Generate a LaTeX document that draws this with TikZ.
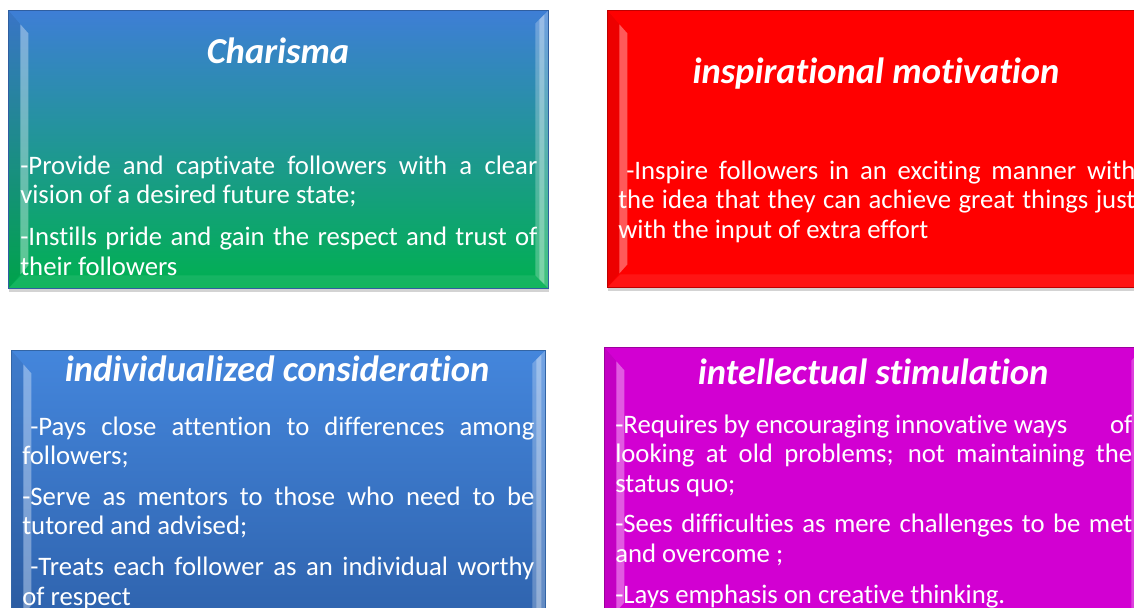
\documentclass[tikz,border=0pt]{standalone}
\usepackage{fontspec}
\setmainfont{Carlito}[Ligatures={NoCommon,NoContextual},Contextuals=NoAlternate,RawFeature={-liga;-calt}]
\usetikzlibrary{shadows}

\definecolor{chatop}{RGB}{62,126,214}
\definecolor{chamid}{RGB}{48,142,180}
\definecolor{chabot}{RGB}{0,176,80}
\definecolor{insred}{RGB}{255,0,0}
\definecolor{indtop}{RGB}{68,134,220}
\definecolor{indbot}{RGB}{46,98,172}
\definecolor{intmag}{RGB}{210,0,210}

\begin{document}
\begin{tikzpicture}[x=0.025cm,y=-0.025cm,
  box/.style={anchor=north west,inner sep=0pt,minimum width=13.5cm,minimum height=6.95cm,
    draw=#1!75!black,line width=0.5pt,
    drop shadow={shadow xshift=0.4pt,shadow yshift=-2.5pt,opacity=0.35},
    path picture={
      \fill[black,opacity=0.07] (path picture bounding box.north west) -- ([shift={(12,14)}]path picture bounding box.north west)
        -- ([shift={(12,-14)}]path picture bounding box.south west) -- (path picture bounding box.south west) -- cycle;
      \fill[white,opacity=0.35] ([shift={(12,14)}]path picture bounding box.north west) -- ([shift={(20,23)}]path picture bounding box.north west)
        -- ([shift={(20,-23)}]path picture bounding box.south west) -- ([shift={(12,-14)}]path picture bounding box.south west) -- cycle;
      \fill[white,opacity=0.25] (path picture bounding box.north east) -- ([shift={(-13,13)}]path picture bounding box.north east)
        -- ([shift={(-13,-13)}]path picture bounding box.south east) -- (path picture bounding box.south east) -- cycle;
      \fill[white,opacity=0.3] ([shift={(-9,9)}]path picture bounding box.north east) -- ([shift={(-4,4)}]path picture bounding box.north east)
        -- ([shift={(-4,-4)}]path picture bounding box.south east) -- ([shift={(-9,-9)}]path picture bounding box.south east) -- cycle;
      \fill[white,opacity=0.08] ([shift={(13,-13)}]path picture bounding box.south west) -- ([shift={(-13,-13)}]path picture bounding box.south east)
        -- (path picture bounding box.south east) -- (path picture bounding box.south west) -- cycle;
    }},
  title/.style={text=white,font=\fontsize{26}{30}\selectfont\bfseries\itshape,anchor=base,inner sep=0pt},
  body/.style={text=white,font=\fontsize{19}{21.2}\selectfont,anchor=base west,text width=12.925cm,align=justify,inner sep=0pt}]
\useasboundingbox (0,0) rectangle (1134,607);
\clip (0,0) rectangle (1134,607);

\node[box=chatop,top color=chatop,middle color=chamid,bottom color=chabot] (cha) at (8,10) {};
\node[box=insred,fill=insred,minimum height=6.925cm] (ins) at (607,10) {};
\node[box=indtop,top color=indtop,bottom color=indbot,minimum width=13.35cm] (ind) at (11,350) {};
\node[box=intmag,fill=intmag] (int) at (604,347) {};

\node[title] (chatitle) at (278,63) {Charisma};
\node[title] (institle) at (876,83) {inspirational motivation};
\node[title] (indtitle) at (277,381) {individualized consideration};
\node[title] (inttitle) at (873,384) {intellectual stimulation};

\node[body] (chabody) at (20,174) {-Provide and captivate followers with a clear\linebreak vision of a desired future state;\par\vspace{8.5pt}
  -Instills pride and gain the respect and trust of\linebreak their followers};
\node[body] (insbody) at (618,179) {\hspace*{0.3em}-Inspire followers in an exciting manner with\linebreak the idea that they can achieve great things just\linebreak with the input of extra effort};
\node[body,text width=12.8cm] (indbody) at (22,435) {\hspace*{0.3em}-Pays close attention to differences among\linebreak followers;\par\vspace{7.5pt}
  -Serve as mentors to those who need to be\linebreak tutored and advised;\par\vspace{7.5pt}
  \hspace*{0.3em}-Treats each follower as an individual worthy\linebreak of respect};
\node[body] (intbody) at (615,433) {-Requires by encouraging innovative ways\hfill of\linebreak looking at old problems; not maintaining the\linebreak status quo;\par\vspace{7.5pt}
  -Sees difficulties as mere challenges to be met\linebreak and overcome ;\par\vspace{7.5pt}
  -Lays emphasis on creative thinking.};
\end{tikzpicture}
\end{document}
